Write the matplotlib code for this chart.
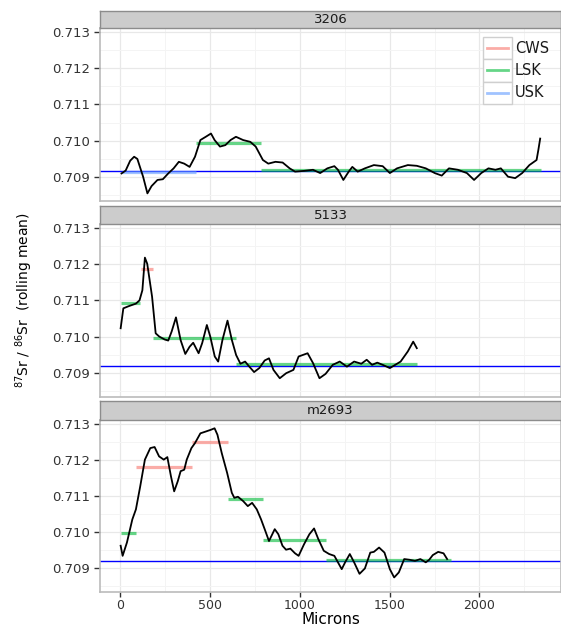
import numpy as np
import matplotlib
matplotlib.use("Agg")
import matplotlib.pyplot as plt
from matplotlib.patches import Rectangle
from matplotlib.lines import Line2D

plt.rcParams['font.family'] = ['DejaVu Sans']
plt.rcParams['mathtext.default'] = 'regular'

W, H = 561, 626
SEAWATER = 0.70918

samples = ["3206", "5133", "m2693"]
groups = ["CWS", "LSK", "USK"]
group_colors = {"CWS": "#F8766D", "LSK": "#00BA38", "USK": "#619CFF"}

# rolling mean curves
x_3206 = [7, 30, 55, 77, 95, 127, 151, 174, 207, 237, 267, 297, 326, 356, 386, 416,
          446, 476, 505, 525, 555, 585, 614, 644, 684, 724, 754, 794, 824, 864, 904,
          943, 973, 1023, 1073, 1113, 1153, 1192, 1212, 1242, 1272, 1292, 1322, 1362,
          1412, 1461, 1501, 1541, 1601, 1651, 1701, 1751, 1790, 1830, 1880, 1930,
          1970, 2010, 2050, 2089, 2119, 2159, 2199, 2238, 2278, 2318, 2328, 2338]
sr_3206 = [0.70910, 0.70918, 0.70945, 0.70956, 0.70950, 0.70901, 0.70855, 0.70875,
           0.70892, 0.70894, 0.70910, 0.70924, 0.70942, 0.70937, 0.70928, 0.70956,
           0.71002, 0.71011, 0.71020, 0.71002, 0.70984, 0.70988, 0.71002, 0.71011,
           0.71002, 0.70997, 0.70984, 0.70947, 0.70937, 0.70942, 0.70940, 0.70924,
           0.70915, 0.70917, 0.70920, 0.70911, 0.70924, 0.70930, 0.70920, 0.70892,
           0.70915, 0.70928, 0.70915, 0.70924, 0.70933, 0.70930, 0.70911, 0.70924,
           0.70933, 0.70931, 0.70924, 0.70911, 0.70904, 0.70924, 0.70920, 0.70911,
           0.70892, 0.70911, 0.70924, 0.70920, 0.70924, 0.70901, 0.70897, 0.70911,
           0.70933, 0.70947, 0.70975, 0.71006]

x_5133 = [2, 17, 47, 87, 107, 123, 137, 150, 177, 197, 217, 247, 267, 286, 310, 336,
          362, 386, 406, 436, 456, 482, 501, 526, 545, 569, 597, 621, 645, 669, 695,
          715, 745, 774, 804, 828, 853, 888, 924, 964, 993, 1043, 1073, 1109, 1143,
          1183, 1222, 1262, 1302, 1342, 1372, 1402, 1431, 1461, 1501, 1531, 1561,
          1601, 1631, 1651]
sr_5133 = [0.71023, 0.71078, 0.71084, 0.71091, 0.71100, 0.71128, 0.71218, 0.71201,
           0.71110, 0.71009, 0.71000, 0.70992, 0.70989, 0.71014, 0.71053, 0.70990,
           0.70952, 0.70972, 0.70983, 0.70954, 0.70982, 0.71032, 0.71000, 0.70945,
           0.70931, 0.70991, 0.71044, 0.70991, 0.70949, 0.70925, 0.70931, 0.70919,
           0.70902, 0.70913, 0.70934, 0.70940, 0.70908, 0.70885, 0.70899, 0.70908,
           0.70945, 0.70954, 0.70927, 0.70885, 0.70897, 0.70922, 0.70931, 0.70917,
           0.70931, 0.70925, 0.70936, 0.70922, 0.70928, 0.70922, 0.70913, 0.70922,
           0.70931, 0.70959, 0.70986, 0.70968]

x_m2693 = [2, 13, 37, 67, 87, 111, 137, 167, 191, 216, 242, 262, 282, 300, 320, 336,
           356, 370, 396, 416, 446, 476, 505, 525, 541, 565, 595, 621, 635, 655, 684,
           710, 734, 760, 784, 804, 828, 860, 880, 903, 923, 947, 973, 993, 1023,
           1053, 1079, 1103, 1133, 1163, 1192, 1233, 1252, 1278, 1302, 1332, 1362,
           1392, 1412, 1441, 1471, 1501, 1525, 1551, 1581, 1611, 1641, 1671, 1701,
           1720, 1740, 1770, 1800, 1820]
sr_m2693 = [0.70961, 0.70933, 0.70970, 0.71034, 0.71062, 0.71126, 0.71200, 0.71232,
            0.71235, 0.71209, 0.71200, 0.71207, 0.71154, 0.71112, 0.71140, 0.71168,
            0.71172, 0.71200, 0.71232, 0.71246, 0.71273, 0.71278, 0.71283, 0.71287,
            0.71269, 0.71218, 0.71163, 0.71108, 0.71094, 0.71097, 0.71085, 0.71071,
            0.71080, 0.71062, 0.71034, 0.71007, 0.70974, 0.71007, 0.70993, 0.70961,
            0.70950, 0.70953, 0.70940, 0.70933, 0.70965, 0.70993, 0.71009, 0.70979,
            0.70947, 0.70938, 0.70933, 0.70896, 0.70915, 0.70938, 0.70915, 0.70883,
            0.70898, 0.70942, 0.70944, 0.70956, 0.70942, 0.70896, 0.70873, 0.70887,
            0.70924, 0.70922, 0.70919, 0.70924, 0.70915, 0.70922, 0.70935, 0.70944,
            0.70940, 0.70924]

# zone means: start, end, value, zone
seg_3206 = [(7, 421, 0.70913, "USK"), (421, 784, 0.70995, "LSK"),
            (784, 2342, 0.70920, "LSK")]
seg_5133 = [(2, 111, 0.71093, "LSK"), (113, 181, 0.71187, "CWS"),
            (181, 645, 0.70995, "LSK"), (645, 1651, 0.70925, "LSK")]
seg_m2693 = [(2, 89, 0.70995, "LSK"), (89, 400, 0.71180, "CWS"),
             (400, 599, 0.71250, "CWS"), (599, 796, 0.71091, "LSK"),
             (796, 1143, 0.70978, "LSK"), (1143, 1844, 0.70921, "LSK")]

curves = {"3206": (x_3206, sr_3206), "5133": (x_5133, sr_5133), "m2693": (x_m2693, sr_m2693)}
segments = {"3206": seg_3206, "5133": seg_5133, "m2693": seg_m2693}

fig = plt.figure(figsize=(W / 100, H / 100), dpi=100)

def fr(x0, y0, x1, y1):
    # pixel box -> figure fraction rect
    return [x0 / W, 1 - y1 / H, (x1 - x0) / W, (y1 - y0) / H]

panel_px = [(28.3, 201), (224.3, 396.7), (420, 591.5)]
strip_px = [(11, 28.3), (206, 224.3), (401, 420)]
left, right = 100, 561

for i, name in enumerate(samples):
    top, bot = panel_px[i]
    ax = fig.add_axes(fr(left, top, right, bot))
    ax.set_xlim(-113, 2454)
    ax.set_ylim(0.70834, 0.71310)
    ax.set_yticks([0.709, 0.710, 0.711, 0.712, 0.713])
    ax.set_yticklabels(["0.709", "0.710", "0.711", "0.712", "0.713"])
    ax.set_yticks(np.arange(0.7085, 0.7130, 0.001), minor=True)
    ax.set_xticks([0, 500, 1000, 1500, 2000])
    ax.set_xticks([250, 750, 1250, 1750, 2250], minor=True)
    ax.grid(True, which="major", color="#E8E8E8", lw=0.9)
    ax.grid(True, which="minor", color="#F4F4F4", lw=0.7)
    ax.set_axisbelow(True)
    for sp in ax.spines.values():
        sp.set_color("#BBBBBB")
        sp.set_linewidth(1.2)
    ax.tick_params(which="minor", length=0)
    ax.tick_params(axis="y", which="major", length=4, width=1, color="#333333",
                   labelsize=9.5, labelcolor="#333333", pad=3)
    if i < 2:
        ax.tick_params(axis="x", which="major", length=0, labelbottom=False)
    else:
        ax.tick_params(axis="x", which="major", length=3.5, width=1, color="#333333",
                       labelsize=9, labelcolor="#333333", pad=2)

    ax.axhline(SEAWATER, color="#0000FF", lw=1.0, zorder=2)
    for s0, s1, v, g in segments[name]:
        ax.plot([s0, s1], [v, v], color=group_colors[g], alpha=0.6, lw=2.3,
                solid_capstyle="butt", zorder=3)
    xs, ys = curves[name]
    ax.plot(xs, ys, color="black", lw=1.3, zorder=4)

    s0, s1 = strip_px[i]
    sax = fig.add_axes(fr(left, s0, right, s1))
    sax.set_facecolor("#CCCCCC")
    sax.set_xticks([])
    sax.set_yticks([])
    for sp in sax.spines.values():
        sp.set_color("#8C8C8C")
        sp.set_linewidth(1.0)
    sax.text(0.5, 0.5, name, ha="center", va="center", fontsize=9.5,
             color="#1A1A1A", transform=sax.transAxes)

# legend drawn inside the top panel
key_x0, key_x1 = 483, 512
row_y = [37, 59.3, 81.6, 104]
for j, g in enumerate(groups):
    y0, y1 = row_y[j], row_y[j + 1]
    fig.patches.append(Rectangle((key_x0 / W, 1 - y1 / H), (key_x1 - key_x0) / W,
                                 (y1 - y0) / H, transform=fig.transFigure,
                                 facecolor="white", edgecolor="#CFCFCF", lw=1.0,
                                 zorder=5))
    yc = 1 - (y0 + y1) / 2 / H
    fig.lines.append(Line2D([487 / W, 508 / W], [yc, yc], transform=fig.transFigure,
                            color=group_colors[g], alpha=0.6, lw=2.0, zorder=6))
    fig.text(515 / W, yc, g, ha="left", va="center", fontsize=10.5, color="#1A1A1A",
             zorder=6)

fig.text(24 / W, 1 - 300 / H, r"$^{87}$Sr / $^{86}$Sr  (rolling mean)", rotation=90,
         ha="center", va="center", fontsize=10)
fig.text(331 / W, 1 - 612 / H, "Microns", ha="center", va="top", fontsize=11)

fig.savefig("out.png", dpi=100)
